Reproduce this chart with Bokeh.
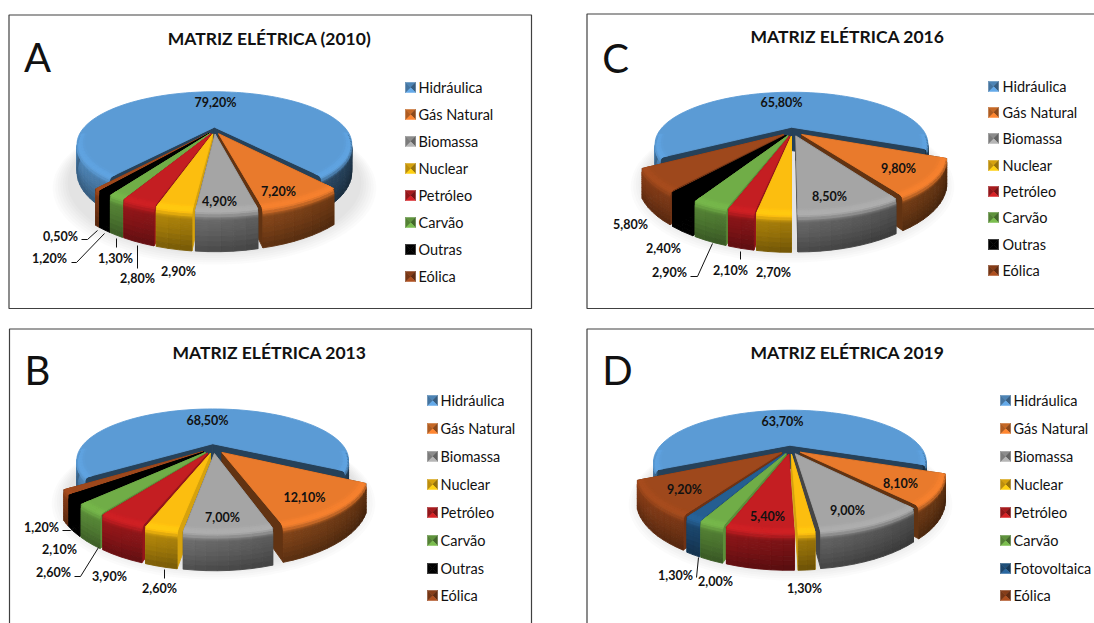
import math
from bokeh.plotting import figure
from bokeh.models import ColumnDataSource
from bokeh.core.properties import value
from bokeh.embed import file_html
from bokeh.resources import INLINE

# Brazilian electricity mix, share of each source (%)
categorias_2010 = ["Hidráulica", "Gás Natural", "Biomassa", "Nuclear", "Petróleo", "Carvão", "Outras", "Eólica"]
valores_2010 = [79.2, 7.2, 4.9, 2.9, 2.8, 1.3, 1.2, 0.5]
categorias_2013 = ["Hidráulica", "Gás Natural", "Biomassa", "Nuclear", "Petróleo", "Carvão", "Outras", "Eólica"]
valores_2013 = [68.5, 12.1, 7.0, 2.6, 3.9, 2.6, 2.1, 1.2]
categorias_2016 = ["Hidráulica", "Gás Natural", "Biomassa", "Nuclear", "Petróleo", "Carvão", "Outras", "Eólica"]
valores_2016 = [65.8, 9.8, 8.5, 2.7, 2.1, 2.9, 2.4, 5.8]
categorias_2019 = ["Hidráulica", "Gás Natural", "Biomassa", "Nuclear", "Petróleo", "Carvão", "Fotovoltaica", "Eólica"]
valores_2019 = [63.7, 8.1, 9.0, 1.3, 5.4, 2.0, 1.3, 9.2]

titulos = ["MATRIZ ELÉTRICA (2010)", "MATRIZ ELÉTRICA 2013", "MATRIZ ELÉTRICA 2016", "MATRIZ ELÉTRICA 2019"]
letras = ["A", "B", "C", "D"]

CORES = {
    "Hidráulica": (91, 155, 213), "Gás Natural": (233, 122, 44), "Biomassa": (165, 165, 165),
    "Nuclear": (252, 190, 15), "Petróleo": (196, 30, 34), "Carvão": (112, 173, 71),
    "Outras": (0, 0, 0), "Fotovoltaica": (37, 94, 145), "Eólica": (158, 72, 28),
}
# brightness of the straight cut faces of each slice
FACE = {
    "Hidráulica": 0.42, "Gás Natural": 0.42, "Biomassa": 0.42, "Nuclear": 0.85, "Petróleo": 0.75,
    "Carvão": 0.82, "Outras": 0.0, "Fotovoltaica": 0.7, "Eólica": 0.7,
}

# Panel layout: frame, pie camera, legend and label placement.
# "start" is the angle, clockwise from the right, where the second slice begins.
PAINEIS = [
    dict(cats=categorias_2010, vals=valores_2010, frame=(8.5, 14.5, 531, 308),
         cx=214, cy=130, f=133, g=49, k=0.33, H=26, e=0.07, start=52,
         title=(269, 38), letter=(37, 56),
         sq=405, tx=418, ly=[87, 114, 141, 168, 195, 222, 249, 276],
         labels=[(215, 102), (278, 191), (219, 201), (178, 271), (137, 278), (115, 258), (49, 258), (60, 236)],
         leaders=[[(81, 239), (87, 239), (97, 230)], [(71, 262), (76, 262), (104, 233)],
                  [(116, 238), (116, 247)], [(137, 245), (137, 268)]]),
    dict(cats=categorias_2013, vals=valores_2013, frame=(9, 328.5, 531, 640),
         cx=213, cy=448, f=133, g=49, k=0.33, H=24, e=0.1, start=30,
         title=(269, 352), letter=(37, 369),
         sq=427, tx=440, ly=[400, 428, 456, 484, 512, 540, 568, 595],
         labels=[(207, 420), (304, 497), (222, 517), (159, 588), (109, 576), (53, 572), (59, 549), (41, 527)],
         leaders=[[(62, 530), (70, 530), (74, 527)], [(74, 576), (80, 576), (98, 547)], [(164, 569), (164, 578)]]),
    dict(cats=categorias_2016, vals=valores_2016, frame=(586.5, 13.5, 1100, 308),
         cx=792, cy=131, f=133, g=49, k=0.33, H=24, e=0.09, start=24,
         title=(847, 36), letter=(615, 57),
         sq=988, tx=1002, ly=[86, 112, 138, 165, 191, 217, 244, 270],
         labels=[(781, 102), (898, 168), (829, 196), (773, 272), (730, 270), (669, 272), (663, 248), (630, 224)],
         leaders=[[(690, 276), (697, 276), (712, 243)], [(740, 251), (740, 259)]]),
    dict(cats=categorias_2019, vals=valores_2019, frame=(586.5, 328.5, 1100, 640),
         cx=790, cy=449, f=133, g=49, k=0.33, H=24, e=0.09, start=22,
         title=(847, 352), letter=(617, 369),
         sq=1000, tx=1013, ly=[400, 428, 456, 484, 512, 540, 568, 595],
         labels=[(782, 421), (900, 483), (847, 510), (804, 588), (767, 516), (715, 581), (675, 575), (684, 489)],
         leaders=[[(696, 577), (698, 557)]]),
]


def tone(rgb, factor):
    return "#%02x%02x%02x" % tuple(min(255, max(0, int(round(c * factor)))) for c in rgb)


def projector(pie):
    def project(u, v, z=0.0):
        w = 1 - pie["k"] * v
        return pie["cx"] + pie["f"] * u / w, pie["cy"] + (pie["g"] * v + pie["H"] * z) / w
    return project


def refine(stops, parts):
    """Split each band of a rim profile into thinner bands."""
    out = [stops[0]]
    for a, b in zip(stops[:-1], stops[1:]):
        for i in range(1, parts + 1):
            s = i / parts
            out.append(tuple(x + (y - x) * s for x, y in zip(a, b)))
    return out


# Rim profile from the flat top, over the rounded edge, down the outer wall:
# (radius, depth, weight of the top tone, weight of the wall tone)
BORDA = refine([(0.95, 0.0, 1.00, 0.0), (0.98, 0.0, 1.06, 0.0), (0.995, 0.05, 1.05, 0.0),
                (1.0, 0.13, 0.5, 0.55)], 2)
PAREDE = refine([(1.0, 0.13, 0.5, 0.55), (1.0, 0.24, 0.0, 1.08), (1.0, 0.5, 0.0, 1.0),
                 (1.0, 1.0, 0.0, 0.76)], 4)


def pie_polygons(pie):
    project = projector(pie)
    total = sum(pie["vals"])
    slices, angle = [], pie["start"] - 360.0 * pie["vals"][0] / total
    for cat, val in zip(pie["cats"], pie["vals"]):
        sweep = 360.0 * val / total
        slices.append((cat, angle, angle + sweep))
        angle += sweep
    slices.sort(key=lambda s: math.sin(math.radians((s[1] + s[2]) / 2)))

    xs, ys, cols = [], [], []

    def add(points, col):
        xs.append([q[0] for q in points])
        ys.append([q[1] for q in points])
        cols.append(col)

    def band(profile, strips, at, rgb):
        for d0, d1, light in strips:
            for (r0, z0, t0, w0), (r1, z1, t1, w1) in zip(profile[:-1], profile[1:]):
                fac = (t0 + t1) / 2 + light * (w0 + w1) / 2
                add([at(r0, d0, z0), at(r0, d1, z0), at(r1, d1, z1), at(r1, d0, z1)], tone(rgb, fac))

    for cat, a0, a1 in slices:
        rgb = CORES[cat]
        mid = math.radians((a0 + a1) / 2)
        ox, oy = pie["e"] * math.cos(mid), pie["e"] * math.sin(mid)

        def at(r, deg, z=0.0):
            t = math.radians(deg)
            return project(ox + r * math.cos(t), oy + r * math.sin(t), z)

        # straight cut faces
        for deg in (a0, a1):
            add([at(0, deg), at(1, deg), at(1, deg, 1), at(0, deg, 1)], tone(rgb, FACE[cat]))

        n = max(2, int((a1 - a0) / 3))
        steps = [a0 + (a1 - a0) * i / n for i in range(n + 1)]
        strips = []
        for d0, d1 in zip(steps[:-1], steps[1:]):
            dm = math.radians((d0 + d1) / 2)
            if math.sin(dm) >= pie["k"] - 0.2:
                strips.append((d0, d1, 0.58 - 0.24 * math.cos(dm)))

        band(PAREDE, strips, at, rgb)
        add([at(0, a0)] + [at(1, d) for d in steps], tone(rgb, 1.0))
        band(BORDA, strips, at, rgb)
    return xs, ys, cols


p = figure(width=1094, height=623, x_range=(0, 1094), y_range=(623, 0),
           output_backend="svg", toolbar_location=None, min_border=0,
           x_axis_location=None, y_axis_location=None)
p.grid.visible = False
p.outline_line_color = None
p.background_fill_color = "white"

FONT = value("Lato")

for pie in PAINEIS:
    left, top, right, bottom = pie["frame"]
    p.quad(left=left, right=right, top=top, bottom=bottom, fill_color="white",
           line_color="#404040", line_width=1.2)

    # soft contact shadow under the pie
    project = projector(pie)
    for i in range(7):
        grow = 1.11 - 0.015 * i
        pts = [project(grow * math.cos(math.radians(d)), grow * math.sin(math.radians(d)) + 0.05, 1.0)
               for d in range(0, 360, 4)]
        p.patch([q[0] for q in pts], [q[1] for q in pts], fill_color="#808080", fill_alpha=0.035, line_color=None)

    xs, ys, cols = pie_polygons(pie)
    p.patches("xs", "ys", source=ColumnDataSource(dict(xs=xs, ys=ys, c=cols)),
              fill_color="c", line_color="c", line_width=0.9)

    # value labels and their leader lines
    labels = [f"{v:.2f}".replace(".", ",") + "%" for v in pie["vals"]]
    p.text([q[0] for q in pie["labels"]], [q[1] for q in pie["labels"]], text=labels,
           text_font=FONT, text_font_style="bold", text_font_size="12.5px", text_color="#111111",
           text_align="center", text_baseline="middle")
    for leader in pie["leaders"]:
        p.line([q[0] for q in leader], [q[1] for q in leader], line_color="#111111", line_width=1)

    # legend: bevelled swatches and names
    sxs, sys_, scs = [], [], []
    size = 10
    for cat, y in zip(pie["cats"], pie["ly"]):
        rgb = CORES[cat]
        x0, x1, y0, y1 = pie["sq"], pie["sq"] + size, y - size / 2, y + size / 2
        xm, ym = (x0 + x1) / 2, (y0 + y1) / 2
        for tri, fac in (([(x0, y0), (x1, y0), (xm, ym)], 0.85), ([(x1, y0), (x1, y1), (xm, ym)], 0.6),
                         ([(x1, y1), (x0, y1), (xm, ym)], 1.1), ([(x0, y1), (x0, y0), (xm, ym)], 0.75)):
            sxs.append([q[0] for q in tri])
            sys_.append([q[1] for q in tri])
            scs.append(tone(rgb, fac))
    p.patches("xs", "ys", source=ColumnDataSource(dict(xs=sxs, ys=sys_, c=scs)),
              fill_color="c", line_color="c", line_width=0.5)
    p.text([pie["tx"]] * len(pie["cats"]), pie["ly"], text=pie["cats"], text_font=FONT,
           text_font_size="14.5px", text_color="#111111", text_align="left", text_baseline="middle")

for pie, titulo, letra in zip(PAINEIS, titulos, letras):
    p.text([pie["title"][0]], [pie["title"][1]], text=[titulo], text_font=FONT, text_font_style="bold",
           text_font_size="17.5px", text_color="#111111", text_align="center", text_baseline="middle")
    p.text([pie["letter"][0]], [pie["letter"][1]], text=[letra], text_font=FONT, text_font_size="40px",
           text_color="#111111", text_align="center", text_baseline="middle")

open("out.html", "w").write(file_html(p, INLINE))
